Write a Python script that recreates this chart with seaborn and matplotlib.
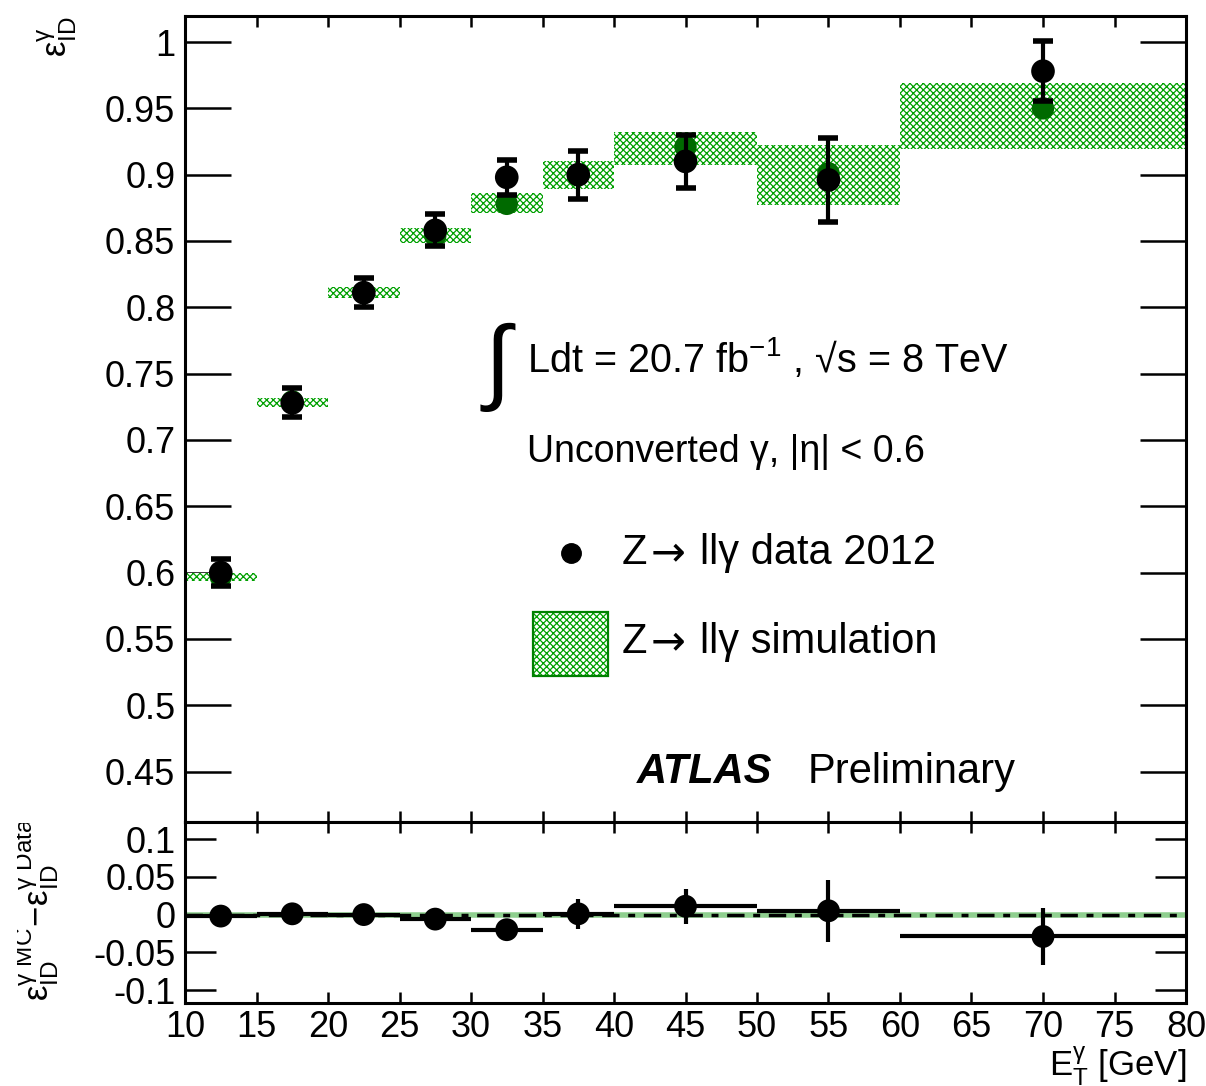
import numpy as np
import pandas as pd
import matplotlib
matplotlib.use("Agg")
import matplotlib.pyplot as plt
import seaborn as sns
from matplotlib.patches import Rectangle
from matplotlib.transforms import Bbox, TransformedBbox

# ---------------------------------------------------------
# Datos
# ---------------------------------------------------------
bin_lo = [10, 15, 20, 25, 30, 35, 40, 50, 60]
bin_hi = [15, 20, 25, 30, 35, 40, 50, 60, 80]
et_center = [12.5, 17.5, 22.5, 27.5, 32.5, 37.5, 45, 55, 70]

eff_data = [0.600, 0.728, 0.811, 0.858, 0.898, 0.900, 0.910, 0.896, 0.978]
eff_data_err = [0.010, 0.011, 0.011, 0.012, 0.013, 0.018, 0.020, 0.032, 0.0225]

eff_mc = [0.597, 0.729, 0.811, 0.854, 0.878, 0.900, 0.921, 0.901, 0.950]
band_lo = [0.5935, 0.7245, 0.807, 0.8485, 0.871, 0.889, 0.907, 0.877, 0.919]
band_hi = [0.5995, 0.7315, 0.815, 0.860, 0.886, 0.910, 0.932, 0.922, 0.969]

diff = [-0.002, 0.001, 0.000, -0.006, -0.020, 0.001, 0.011, 0.005, -0.029]
diff_err = [0.008, 0.008, 0.008, 0.010, 0.013, 0.020, 0.023, 0.041, 0.038]

df = pd.DataFrame({
    "et": et_center, "lo": bin_lo, "hi": bin_hi,
    "data": eff_data, "data_err": eff_data_err, "mc": eff_mc,
    "band_lo": band_lo, "band_hi": band_hi,
    "diff": diff, "diff_err": diff_err,
})
df["width"] = df["hi"] - df["lo"]
df["mid"] = (df["hi"] + df["lo"]) / 2

# ---------------------------------------------------------
# Estilo
# ---------------------------------------------------------
sns.set_style("ticks")
plt.rcParams["font.family"] = ["Liberation Sans", "DejaVu Sans"]
plt.rcParams["mathtext.fontset"] = "custom"
plt.rcParams["mathtext.rm"] = "Liberation Sans"
plt.rcParams["mathtext.it"] = "Liberation Sans:italic"
plt.rcParams["mathtext.bf"] = "Liberation Sans:bold"
plt.rcParams["hatch.linewidth"] = 0.9
for k in ["text.color", "axes.labelcolor", "xtick.color", "ytick.color",
          "axes.edgecolor"]:
    plt.rcParams[k] = "black"

GREEN = "#00a000"
DKGREEN = "#006a00"
HATCH = "xxxxx"

fig = plt.figure(figsize=(12.06, 10.86), dpi=100)
W, H = 1206, 1086
ax = fig.add_axes([185 / W, 1 - 822 / H, 1001 / W, 806 / H])
ax2 = fig.add_axes([185 / W, 1 - 1003 / H, 1001 / W, 181 / H])

# ---------------------------------------------------------
# Panel superior
# ---------------------------------------------------------
ax.bar(df["mid"], df["band_hi"] - df["band_lo"], bottom=df["band_lo"],
       width=df["width"], color="white", edgecolor=GREEN, linewidth=0,
       hatch=HATCH, zorder=1)
sns.scatterplot(data=df, x="et", y="mc", ax=ax, color=DKGREEN, s=260,
                edgecolor="none", zorder=2, legend=False)
ax.errorbar(df["et"], df["data"], yerr=df["data_err"], fmt="none",
            ecolor="black", elinewidth=3, capsize=7, capthick=4, zorder=3)
sns.scatterplot(data=df, x="et", y="data", ax=ax, color="black", s=290,
                edgecolor="none", zorder=4, legend=False)

ax.set_xlim(10, 80)
ax.set_ylim(0.412, 1.0196)
ax.set_yticks(np.arange(0.45, 1.001, 0.05))
ax.set_yticklabels(["0.45", "0.5", "0.55", "0.6", "0.65", "0.7", "0.75",
                    "0.8", "0.85", "0.9", "0.95", "1"])
ax.set_xticks(np.arange(10, 81, 5))
ax.tick_params(axis="x", labelbottom=False, direction="in", top=True,
               bottom=True, length=8, width=1.8)
ax.tick_params(axis="y", direction="in", left=True, right=True, length=33,
               width=1.8, labelsize=26, pad=7)
ax.set_xlabel("")
ax.set_ylabel(r"$\mathregular{\epsilon^{\gamma}_{ID}}$", fontsize=25, loc="top")
ax.yaxis.set_label_coords(-0.106, 1.0)
for s in ax.spines.values():
    s.set_linewidth(2.2)

# textos
ax.text(0.313, 0.565, r"$\int$", transform=ax.transAxes, fontsize=68,
        ha="center", va="center", family=["DejaVu Serif"])
ax.text(0.3417, 0.576, r"Ldt = 20.7 fb$^{\mathregular{-1}}$ , √s = 8 TeV",
        transform=ax.transAxes, fontsize=28.5, ha="left", va="center")
ax.text(0.3417, 0.459, "Unconverted γ, |η| < 0.6", transform=ax.transAxes,
        fontsize=27, ha="left", va="center")

# leyenda manual
def entrada(y, texto):
    ax.text(0.4366, y, "Z", transform=ax.transAxes, fontsize=30,
            ha="left", va="center")
    ax.text(0.4655, y, "→", transform=ax.transAxes, fontsize=30,
            ha="left", va="center", family=["DejaVu Sans"])
    ax.text(0.5145, y, texto, transform=ax.transAxes, fontsize=30,
            ha="left", va="center")

ax.plot([0.3856], [0.3337], "o", color="black", markersize=14,
        transform=ax.transAxes, clip_on=False)
entrada(0.3337, "llγ data 2012")
ax.add_patch(Rectangle((0.3477, 0.1811), 0.0749, 0.0794,
                       transform=ax.transAxes, facecolor="white",
                       edgecolor=GREEN, hatch=HATCH, linewidth=0))
ax.add_patch(Rectangle((0.3477, 0.1811), 0.0749, 0.0794,
                       transform=ax.transAxes, facecolor="none",
                       edgecolor="#008000", linewidth=1.6))
entrada(0.2233, "llγ simulation")

ax.text(0.4515, 0.062, "ATLAS", transform=ax.transAxes, fontsize=30,
        fontweight="bold", fontstyle="italic", ha="left", va="center")
ax.text(0.6224, 0.062, "Preliminary", transform=ax.transAxes, fontsize=30,
        ha="left", va="center")

# ---------------------------------------------------------
# Panel inferior: diferencia MC - datos
# ---------------------------------------------------------
ax2.axhline(0, color="#8fcf8f", linewidth=4, zorder=1)
ax2.axhline(0, color="black", linewidth=2.5, linestyle=(0, (5, 2.5, 2, 2.5)),
            zorder=2)
ax2.errorbar(df["et"], df["diff"], yerr=df["diff_err"],
             xerr=[df["et"] - df["lo"], df["hi"] - df["et"]], fmt="none",
             ecolor="black", elinewidth=3, capsize=0, zorder=3)
sns.scatterplot(data=df, x="et", y="diff", ax=ax2, color="black", s=270,
                edgecolor="none", zorder=4, legend=False)

ax2.set_xlim(10, 80)
ax2.set_ylim(-0.117, 0.1225)
ax2.set_yticks([-0.1, -0.05, 0, 0.05, 0.1])
ax2.set_yticklabels(["-0.1", "-0.05", "0", "0.05", "0.1"])
ax2.set_xticks(np.arange(10, 81, 5))
ax2.tick_params(axis="x", direction="in", top=True, bottom=True, length=8,
                width=1.8, labelsize=26, pad=5)
ax2.tick_params(axis="y", direction="in", left=True, right=True, length=22,
                width=1.8, labelsize=26, pad=7)
ax2.set_ylabel("")
ax2.set_xlabel(r"$\mathregular{E^{\gamma}_{T}}$ [GeV]", fontsize=25, loc="right",
               labelpad=0)
for s in ax2.spines.values():
    s.set_linewidth(2.2)

# etiqueta del eje y inferior (recortada como en el original)
lab = fig.text(37 / W, 1 - 1001 / H,
               r"$\mathregular{\epsilon^{\gamma\ MC}_{ID}\!-\!\epsilon^{\gamma\ Data}_{ID}}$",
               rotation=90, fontsize=25, ha="center", va="bottom")
lab.set_clip_box(TransformedBbox(Bbox([[17 / W, 0], [185 / W, 1 - 823 / H]]),
                                 fig.transFigure))
lab.set_clip_on(True)

plt.savefig("out.png", dpi=100)
